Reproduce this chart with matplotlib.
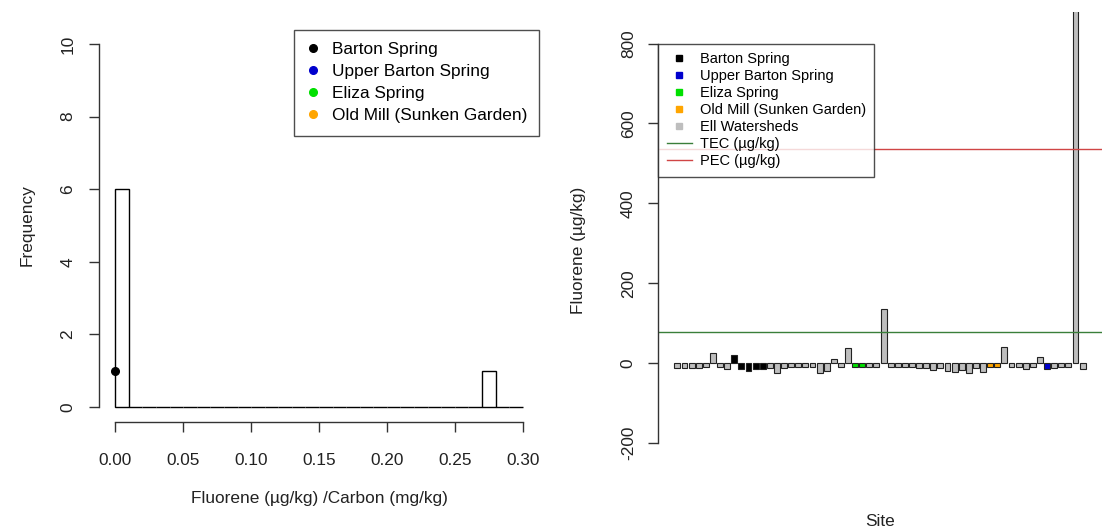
import matplotlib
matplotlib.use("Agg")
import matplotlib.pyplot as plt
from matplotlib.lines import Line2D
import numpy as np

plt.rcParams['font.family'] = ['Liberation Sans', 'DejaVu Sans']

# ---------------- data ----------------
# Left: histogram of Fluorene/Carbon ratio (bin width 0.01, 0 .. 0.30)
hist_bin_start = 0.0
hist_bin_width = 0.01
hist_counts = [6, 0, 0, 0, 0, 0, 0, 0, 0, 0,
               0, 0, 0, 0, 0, 0, 0, 0, 0, 0,
               0, 0, 0, 0, 0, 0, 0, 1, 0, 0]
spring_names = ["Barton Spring", "Upper Barton Spring", "Eliza Spring",
                "Old Mill (Sunken Garden)"]
spring_colors = ["black", "#0000CD", "#00E000", "orange"]
# observed spring points on the histogram (x ratio, frequency)
barton_point_x = [0.0]
barton_point_y = [1]

# Right: Fluorene by site
site_values = [-12, -12, -12, -12, -10, 27, -10, -15, 20, -15,
               -20, -15, -15, -12, -25, -12, -10, -10, -10, -10,
               -25, -18, 12, -10, 38, -10, -10, -10, -10, 135,
               -10, -10, -10, -10, -12, -12, -16, -12, -18, -22,
               -16, -25, -12, -22, -10, -10, 40, -10, -10, -14,
               -10, 15, -14, -12, -10, -10, 900, -14]
site_groups = ["E", "E", "E", "E", "E", "E", "E", "E", "B", "B",
               "B", "B", "B", "E", "E", "E", "E", "E", "E", "E",
               "E", "E", "E", "E", "E", "Z", "Z", "E", "E", "E",
               "E", "E", "E", "E", "E", "E", "E", "E", "E", "E",
               "E", "E", "E", "E", "O", "O", "E", "E", "E", "E",
               "E", "E", "U", "E", "E", "E", "E", "E"]
group_colors = {"B": "black", "U": "#0000CD", "Z": "#00E000",
                "O": "orange", "E": "#BEBEBE"}
right_legend_names = ["Barton Spring", "Upper Barton Spring", "Eliza Spring",
                      "Old Mill (Sunken Garden)", "Ell Watersheds"]
right_legend_colors = ["black", "#0000CD", "#00E000", "orange", "#BEBEBE"]
TEC = 77.4
PEC = 536

# ---------------- figure ----------------
W, H = 1118, 529
fig = plt.figure(figsize=(W / 100, H / 100), dpi=100)

def add_ax(l, r, t, b):
    return fig.add_axes([l / W, 1 - b / H, (r - l) / W, (b - t) / H])

axis_col = "#333333"
txt_col = "#222222"
fs = 12.4
tec_col = "#3A7F3A"
pec_col = "#D04545"

# ---------- left panel ----------
L_l, L_r, L_t, L_b = 99, 539, 29.5, 421.5
ax1 = add_ax(L_l, L_r, L_t, L_b)
edges = hist_bin_start + hist_bin_width * np.arange(len(hist_counts))
ax1.bar(edges, hist_counts, width=hist_bin_width, align="edge",
        fill=False, edgecolor="black", linewidth=1.0)
ax1.plot(barton_point_x, barton_point_y, "o", color="black", markersize=5.5,
         clip_on=False, zorder=5)
ax1.set_xlim(-0.012, 0.312)
ax1.set_ylim(-0.4, 10.4)
for s in ["top", "right"]:
    ax1.spines[s].set_visible(False)
ax1.spines["left"].set_bounds(0, 10)
ax1.spines["bottom"].set_bounds(0, 0.30)
for s in ["left", "bottom"]:
    ax1.spines[s].set_color(axis_col)
    ax1.spines[s].set_linewidth(1.0)
ax1.set_xticks([0.00, 0.05, 0.10, 0.15, 0.20, 0.25, 0.30])
ax1.set_xticklabels(["0.00", "0.05", "0.10", "0.15", "0.20", "0.25", "0.30"])
ax1.set_yticks([0, 2, 4, 6, 8, 10])
ax1.tick_params(axis="both", length=7, width=1.0, color=axis_col,
                labelsize=fs, labelcolor=txt_col)
ax1.tick_params(axis="x", pad=16)
ax1.tick_params(axis="y", pad=10)
for lab in ax1.get_yticklabels():
    lab.set_rotation(90)
    lab.set_va("center")
ax1.set_xlabel("Fluorene (µg/kg) /Carbon (mg/kg)", fontsize=fs,
               color=txt_col, va="center")
ax1.xaxis.set_label_coords(0.5, (L_b - 498) / (L_b - L_t))
ax1.set_ylabel("Frequency", fontsize=fs, color=txt_col, va="center")
ax1.yaxis.set_label_coords((27 - L_l) / (L_r - L_l), 0.5)

h1 = [Line2D([], [], marker="o", linestyle="none", color=c, markersize=5.5)
      for c in spring_colors]
leg1 = ax1.legend(h1, spring_names, loc="upper right", bbox_to_anchor=(1, 1),
                  borderaxespad=0, fontsize=fs, frameon=True, fancybox=False,
                  handlelength=0.8, handletextpad=0.7, labelspacing=0.42,
                  borderpad=0.7)
leg1.get_frame().set_edgecolor(txt_col)
leg1.get_frame().set_linewidth(1.0)

# ---------- right panel ----------
R_l, R_r, R_t, R_b = 658, 1102, 12, 445
ax2 = add_ax(R_l, R_r, R_t, R_b)
y800, y_m200 = 43.5, 443.3
ppu = (y_m200 - y800) / 1000.0
ytop = 800 + (y800 - R_t) / ppu
ybot = -200 - (R_b - y_m200) / ppu
xpos = np.arange(len(site_values))
cols = [group_colors[g] for g in site_groups]
ax2.bar(xpos, site_values, width=1 / 1.2, color=cols, edgecolor="#222222",
        linewidth=0.8)
ax2.axhline(TEC, color=tec_col, linewidth=1.0)
ax2.axhline(PEC, color=pec_col, linewidth=1.0)
ax2.set_xlim(-2.73, 59.73)
ax2.set_ylim(ybot, ytop)
for s in ["top", "right", "bottom"]:
    ax2.spines[s].set_visible(False)
ax2.spines["left"].set_bounds(-200, 800)
ax2.spines["left"].set_color(axis_col)
ax2.spines["left"].set_linewidth(1.0)
ax2.set_xticks([])
ax2.set_yticks([-200, 0, 200, 400, 600, 800])
ax2.set_yticklabels(["-200", "0", "200", "400", "600", "800"])
ax2.tick_params(axis="y", length=7, width=1.0, color=axis_col,
                labelsize=fs, labelcolor=txt_col, pad=9)
for lab in ax2.get_yticklabels():
    lab.set_rotation(90)
    lab.set_va("center")
ax2.set_xlabel("Site", fontsize=fs, color=txt_col, va="center")
ax2.xaxis.set_label_coords(0.5, (R_b - 521) / (R_b - R_t))
ax2.set_ylabel("Fluorene (µg/kg)", fontsize=fs, color=txt_col, va="center")
ax2.yaxis.set_label_coords((578 - R_l) / (R_r - R_l), (R_b - 250) / (R_b - R_t))

h2 = [Line2D([], [], marker="s", linestyle="none", color=c, markersize=4.2)
      for c in right_legend_colors]
h2 += [Line2D([], [], color=tec_col, linewidth=1.0),
       Line2D([], [], color=pec_col, linewidth=1.0)]
labels2 = right_legend_names + ["TEC (µg/kg)", "PEC (µg/kg)"]
leg2 = ax2.legend(h2, labels2, loc="upper left",
                  bbox_to_anchor=(ax2.get_xlim()[0], 800),
                  bbox_transform=ax2.transData, borderaxespad=0,
                  fontsize=10.5, frameon=True, fancybox=False,
                  handlelength=1.7, handletextpad=0.55, labelspacing=0.2,
                  borderpad=0.6)
leg2.get_frame().set_edgecolor(txt_col)
leg2.get_frame().set_linewidth(1.0)

fig.savefig("out.png", dpi=100, facecolor="white")
